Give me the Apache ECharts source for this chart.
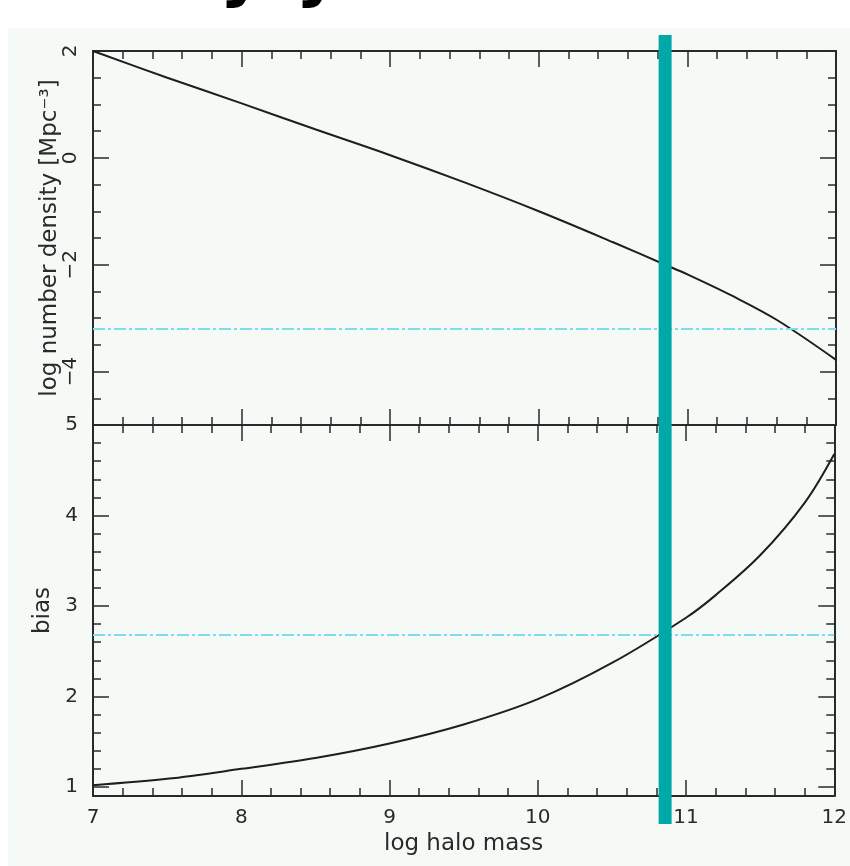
<!DOCTYPE html>
<html><head><meta charset="utf-8">
<script src="https://cdn.jsdelivr.net/npm/echarts@6/dist/echarts.min.js"></script>
<style>html,body{margin:0;padding:0;background:#fff}#c{width:850px;height:866px}</style>
</head><body><div id="c"></div>
<script>
// ---- data ----
const densityMass = [7, 7.5, 8, 8.5, 9, 9.5, 10, 10.5, 10.85, 11, 11.3, 11.6, 12];
const logDensity  = [2.0, 1.5, 1.02, 0.53, 0.05, -0.46, -1.0, -1.58, -2.0, -2.18, -2.58, -3.03, -3.78];
const biasMass    = [7, 7.5, 8, 8.5, 9, 9.5, 10, 10.5, 11, 11.2, 11.5, 11.8, 12];
const biasValues  = [1.02, 1.09, 1.2, 1.32, 1.48, 1.69, 1.97, 2.37, 2.87, 3.12, 3.56, 4.14, 4.68];
const densityCut = -3.2;
const biasCut = 2.68;
const selectedMass = 10.85;
const massRange = [7, 12];
const densityRange = [-5, 2];
const biasRange = [0.9, 5];
const densityMajorTicks = [-4, -2, 0, 2];
const densityMinorTicks = [-5, -4.5, -4, -3.5, -3, -2.5, -2, -1.5, -1, -0.5, 0, 0.5, 1, 1.5, 2];
const biasMajorTicks = [1, 2, 3, 4, 5];
const biasMinorTicks = [1, 1.2, 1.4, 1.6, 1.8, 2, 2.2, 2.4, 2.6, 2.8, 3, 3.2, 3.4, 3.6, 3.8, 4, 4.2, 4.4, 4.6, 4.8, 5];
const xName = 'log halo mass';
const densityName = 'log number density [Mpc\u207B\u00B3]';
const biasName = 'bias';

// ---- styling ----
const FONT = 'DejaVu Sans';
const INK = '#2a2a2a';
const MAJ = 16, MIN = 8;
const NAME_SIZE = 23;
const fmt = v => String(v).replace('-', '\u2212');

function xAx(grid, pos, showLabels, name) {
  return {
    type: 'value', gridIndex: grid, position: pos, min: massRange[0], max: massRange[1], interval: 1,
    axisLine: {show: true, onZero: false, lineStyle: {color: INK, width: 2}},
    axisTick: {show: true, inside: true, length: MAJ, lineStyle: {color: INK, width: 1.5}},
    minorTick: {show: true, splitNumber: 5, length: MIN, lineStyle: {color: INK, width: 1.5}},
    axisLabel: {show: showLabels, margin: 12, color: INK, fontFamily: FONT, fontSize: 20},
    splitLine: {show: false},
    name: name || '', nameLocation: 'middle', nameGap: 37, nameMoveOverlap: false,
    nameTextStyle: {color: INK, fontFamily: FONT, fontSize: NAME_SIZE}
  };
}
function yAx(grid, pos, range, ticks, len, opts) {
  opts = opts || {};
  return {
    type: 'value', gridIndex: grid, position: pos, min: range[0], max: range[1],
    axisLine: {show: !!opts.line, onZero: false, lineStyle: {color: INK, width: 2}},
    axisTick: {show: true, inside: true, length: len, customValues: ticks, lineStyle: {color: INK, width: 1.5}},
    axisLabel: opts.labels ? Object.assign({show: true, customValues: opts.labels, formatter: fmt,
      color: INK, fontFamily: FONT, fontSize: 20}, opts.labelStyle || {}) : {show: false},
    splitLine: {show: false},
    name: opts.name || '', nameLocation: 'middle', nameRotate: 90, nameGap: opts.nameGap || 30,
    nameMoveOverlap: false,
    nameTextStyle: {color: INK, fontFamily: FONT, fontSize: NAME_SIZE}
  };
}

const chart = echarts.init(document.getElementById('c'), null, {renderer: 'canvas'});
const option = {
  backgroundColor: '#ffffff',
  animation: false,
  graphic: [
    {type: 'rect', z: -10, shape: {x: 8, y: 28, width: 842, height: 838}, style: {fill: '#f6faf7'}},
    {type: 'text', z: -5, x: 242, y: 9, style: {text: 'y', font: 'bold 68px ' + FONT, fill: '#000', align: 'center', verticalAlign: 'bottom'}},
    {type: 'text', z: -5, x: 318, y: 9, style: {text: 'y', font: 'bold 68px ' + FONT, fill: '#000', align: 'center', verticalAlign: 'bottom'}}
  ],
  grid: [
    {left: 93, top: 51, width: 743, height: 374, containLabel: false},
    {left: 93, top: 425, width: 743, height: 371, containLabel: false},
    {left: 93, top: 35, width: 743, height: 789, containLabel: false}
  ],
  xAxis: [
    xAx(0, 'bottom', false),
    xAx(0, 'top', false),
    xAx(1, 'bottom', true, xName),
    xAx(1, 'top', false),
    {type: 'value', gridIndex: 2, min: massRange[0], max: massRange[1], show: false}
  ],
  yAxis: [
    yAx(0, 'left', densityRange, densityMajorTicks, MAJ, {line: true, labels: densityMajorTicks,
      labelStyle: {rotate: 90, margin: 12}, name: densityName, nameGap: 31}),
    yAx(0, 'left', densityRange, densityMinorTicks, MIN),
    yAx(0, 'right', densityRange, densityMajorTicks, MAJ, {line: true}),
    yAx(0, 'right', densityRange, densityMinorTicks, MIN),
    yAx(1, 'left', biasRange, biasMajorTicks, MAJ, {line: true, labels: biasMajorTicks,
      labelStyle: {margin: 15}, name: biasName, nameGap: 38}),
    yAx(1, 'left', biasRange, biasMinorTicks, MIN),
    yAx(1, 'right', biasRange, biasMajorTicks, MAJ, {line: true}),
    yAx(1, 'right', biasRange, biasMinorTicks, MIN),
    {type: 'value', gridIndex: 2, min: 0, max: 1, show: false}
  ],
  series: [
    {
      type: 'line', xAxisIndex: 0, yAxisIndex: 0, smooth: 0.35, showSymbol: false, z: 3,
      data: densityMass.map((m, i) => [m, logDensity[i]]),
      lineStyle: {color: '#1e1e1e', width: 2},
      markLine: {silent: true, symbol: ['none', 'none'], label: {show: false},
        lineStyle: {color: '#7fdcef', width: 2, type: [12, 3, 3, 3]},
        data: [{yAxis: densityCut}]}
    },
    {
      type: 'line', xAxisIndex: 2, yAxisIndex: 4, smooth: 0.35, showSymbol: false, z: 3,
      data: biasMass.map((m, i) => [m, biasValues[i]]),
      lineStyle: {color: '#1e1e1e', width: 2},
      markLine: {silent: true, symbol: ['none', 'none'], label: {show: false},
        lineStyle: {color: '#7fdcef', width: 2, type: [12, 3, 3, 3]},
        data: [{yAxis: biasCut}]}
    },
    {
      type: 'line', xAxisIndex: 4, yAxisIndex: 8, showSymbol: false, z: 20, silent: true,
      data: [[selectedMass, 0], [selectedMass, 1]],
      lineStyle: {color: '#00a8a8', width: 13, cap: 'butt'}
    }
  ]
};
chart.setOption(option);
</script>
</body></html>
